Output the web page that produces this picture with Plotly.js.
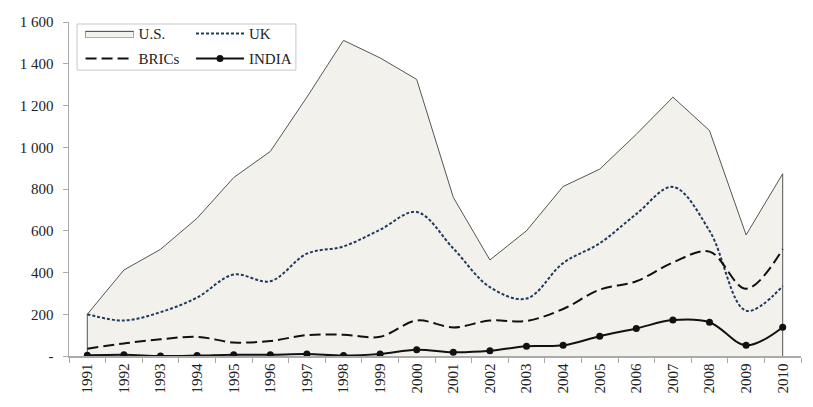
<!DOCTYPE html>
<html>
<head>
<meta charset="utf-8">
<script src="https://cdn.plot.ly/plotly-3.0.1.min.js"></script>
<style>html,body{margin:0;padding:0;background:#fff;}#chart{width:813px;height:407px;}</style>
</head>
<body>
<div id="chart"></div>
<script>
const years = ['1991','1992','1993','1994','1995','1996','1997','1998','1999','2000','2001','2002','2003','2004','2005','2006','2007','2008','2009','2010'];
const us    = [200, 412, 511, 660, 855, 980, 1240, 1512, 1428, 1325, 760, 460, 600, 812, 895, 1062, 1240, 1080, 580, 873];
const uk    = [200, 170, 210, 280, 390, 358, 490, 525, 605, 690, 515, 330, 275, 445, 540, 680, 810, 600, 217, 335];
const brics = [35, 60, 80, 92, 65, 72, 100, 102, 92, 170, 137, 170, 168, 225, 318, 358, 448, 500, 322, 512];
const india = [3, 6, 0, 2, 6, 6, 9, 2, 10, 30, 18, 25, 47, 51, 95, 132, 172, 162, 51, 138];
const yTickVals = [0, 200, 400, 600, 800, 1000, 1200, 1400, 1600];
const yTickText = ['-', '200', '400', '600', '800', '1 000', '1 200', '1 400', '1 600'];

const font = {family: 'Liberation Serif', size: 15, color: '#222'};

const traces = [
  {
    name: 'U.S.', legend: 'legend',
    x: [years[0]].concat(years, [years[years.length-1]]),
    y: [0].concat(us, [0]),
    type: 'scatter', mode: 'lines', fill: 'tozeroy', fillcolor: '#f2f1eb',
    line: {color: '#555', width: 1}
  },
  {
    name: 'UK', legend: 'legend2',
    x: years, y: uk, type: 'scatter', mode: 'lines',
    line: {color: '#1f3a60', width: 2, dash: '3px,2px', shape: 'spline', smoothing: 1}
  },
  {
    name: 'BRICs', legend: 'legend3',
    x: years, y: brics, type: 'scatter', mode: 'lines',
    line: {color: '#111', width: 2, dash: '11px,5px', shape: 'spline', smoothing: 1}
  },
  {
    name: 'INDIA', legend: 'legend4',
    x: years, y: india, type: 'scatter', mode: 'lines+markers',
    line: {color: '#111', width: 2, shape: 'spline', smoothing: 1},
    marker: {color: '#111', size: 7}
  }
];

const legBase = {bgcolor: 'rgba(0,0,0,0)', borderwidth: 0, font: font, itemwidth: 48, xanchor: 'left', yanchor: 'middle', tracegroupgap: 0};

const layout = {
  width: 813, height: 407,
  margin: {l: 69, r: 12, t: 22, b: 51},
  paper_bgcolor: '#fff', plot_bgcolor: '#fff',
  font: font,
  showlegend: true,
  legend:  Object.assign({}, legBase, {x: 0.0158, y: 0.965}),
  legend2: Object.assign({}, legBase, {x: 0.1667, y: 0.965}),
  legend3: Object.assign({}, legBase, {x: 0.0158, y: 0.89}),
  legend4: Object.assign({}, legBase, {x: 0.1667, y: 0.89}),
  xaxis: {
    type: 'category', range: [-0.5, 19.5],
    showgrid: false, zeroline: false,
    showline: true, linecolor: '#aaa', linewidth: 1.5,
    ticks: 'outside', ticklen: 5, tickcolor: '#aaa', tickson: 'boundaries',
    tickangle: -90, tickfont: font
  },
  yaxis: {
    range: [0, 1600], showgrid: false, zeroline: false,
    showline: true, linecolor: '#aaa', linewidth: 1.5,
    ticks: 'outside', ticklen: 5, tickcolor: '#aaa',
    tickvals: yTickVals, ticktext: yTickText, tickfont: font,
    ticklabelstandoff: 6
  },
  shapes: [
    {type: 'rect', xref: 'paper', yref: 'paper', x0: 0.011, x1: 0.310, y0: 0.856, y1: 0.994,
     line: {color: '#c8c8c8', width: 1}, fillcolor: 'rgba(0,0,0,0)'},
    {type: 'rect', xref: 'paper', yref: 'paper', x0: 0.02254, x1: 0.08811, y0: 0.9539, y1: 0.9719,
     line: {color: '#555', width: 1}, fillcolor: 'rgba(0,0,0,0)'}
  ]
};

Plotly.newPlot('chart', traces, layout, {displayModeBar: false, staticPlot: true});
</script>
</body>
</html>
